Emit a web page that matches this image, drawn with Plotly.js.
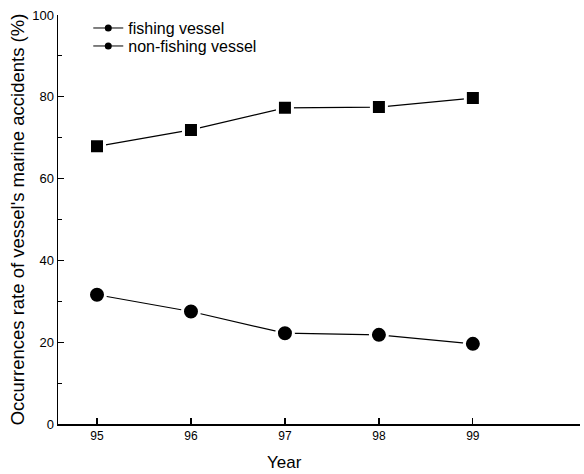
<!DOCTYPE html>
<html>
<head>
<meta charset="utf-8">
<script src="https://cdn.plot.ly/plotly-3.0.1.min.js"></script>
<style>
  html, body { margin: 0; padding: 0; background: #fff; }
  #chart { width: 584px; height: 474px; }
</style>
</head>
<body>
<div id="chart"></div>
<script>
// Share of marine accidents by vessel type, 1995-1999
const years = [95, 96, 97, 98, 99];
const fishingVessel = [67.9, 71.9, 77.3, 77.5, 79.7];
const nonFishingVessel = [31.6, 27.5, 22.2, 21.8, 19.6];
const seriesNames = ['fishing vessel', 'non-fishing vessel'];
const yTicks = [0, 20, 40, 60, 80, 100];

const FONT = 'Liberation Sans, Arial, Helvetica, sans-serif';

// markers get a white rim so the connecting lines stop just short of them
const dataTraces = [
  {
    x: years, y: fishingVessel, name: seriesNames[0], type: 'scatter', mode: 'lines+markers',
    line: { color: '#000', width: 1.2 },
    marker: { symbol: 'square', size: 15, color: '#000', line: { color: '#fff', width: 3 } },
    showlegend: false, hoverinfo: 'x+y'
  },
  {
    x: years, y: nonFishingVessel, name: seriesNames[1], type: 'scatter', mode: 'lines+markers',
    line: { color: '#000', width: 1.2 },
    marker: { symbol: 'circle', size: 17, color: '#000', line: { color: '#fff', width: 3 } },
    showlegend: false, hoverinfo: 'x+y'
  }
];

// legend entries use small dot markers, one legend box per row
const legendNames = ['legend', 'legend2'];
const legendTraces = seriesNames.map((n, i) => ({
  x: [null], y: [null], name: n, type: 'scatter', mode: 'lines+markers',
  line: { color: '#000', width: 1 },
  marker: { symbol: 'circle', size: 7, color: '#000' },
  legend: legendNames[i],
  hoverinfo: 'skip'
}));

function legendBox(yPos) {
  return {
    x: 0.058, y: yPos, xanchor: 'left', yanchor: 'middle',
    bgcolor: 'rgba(0,0,0,0)', borderwidth: 0,
    font: { family: FONT, size: 16, color: '#000' },
    itemwidth: 30
  };
}

const layout = {
  width: 584, height: 474,
  margin: { l: 58, r: 4, t: 15, b: 50 },
  paper_bgcolor: '#fff', plot_bgcolor: '#fff',
  font: { family: FONT, color: '#000', size: 13 },
  showlegend: true,
  legend: legendBox(0.968),
  legend2: legendBox(0.924),
  xaxis: {
    range: [94.585, 100.14],
    tickvals: years, ticktext: years.map(String),
    ticks: 'inside', ticklen: 6, tickwidth: 1.2, tickcolor: '#000',
    showline: true, linecolor: '#000', linewidth: 1.5,
    showgrid: false, zeroline: false,
    tickfont: { family: FONT, size: 12, color: '#000' }
  },
  yaxis: {
    range: [0, 100],
    tickvals: yTicks, ticktext: yTicks.map(String),
    ticks: 'inside', ticklen: 6, tickwidth: 1.2, tickcolor: '#000',
    minor: { dtick: 10, ticks: 'inside', ticklen: 4, tickwidth: 1, tickcolor: '#000', showgrid: false },
    showline: true, linecolor: '#000', linewidth: 1.5,
    showgrid: false, zeroline: false,
    tickfont: { family: FONT, size: 13, color: '#000' },
    title: { text: "Occurrences rate of vessel's marine accidents (%)", font: { family: FONT, size: 18.5, color: '#000' }, standoff: 2 }
  },
  annotations: [
    {
      // x-axis title, centred under the middle year
      text: 'Year', xref: 'x', yref: 'paper', x: 97, y: -0.093,
      xanchor: 'center', yanchor: 'middle', showarrow: false,
      font: { family: FONT, size: 17, color: '#000' }
    }
  ]
};

Plotly.newPlot('chart', dataTraces.concat(legendTraces), layout, { displayModeBar: false, staticPlot: true });
</script>
</body>
</html>
